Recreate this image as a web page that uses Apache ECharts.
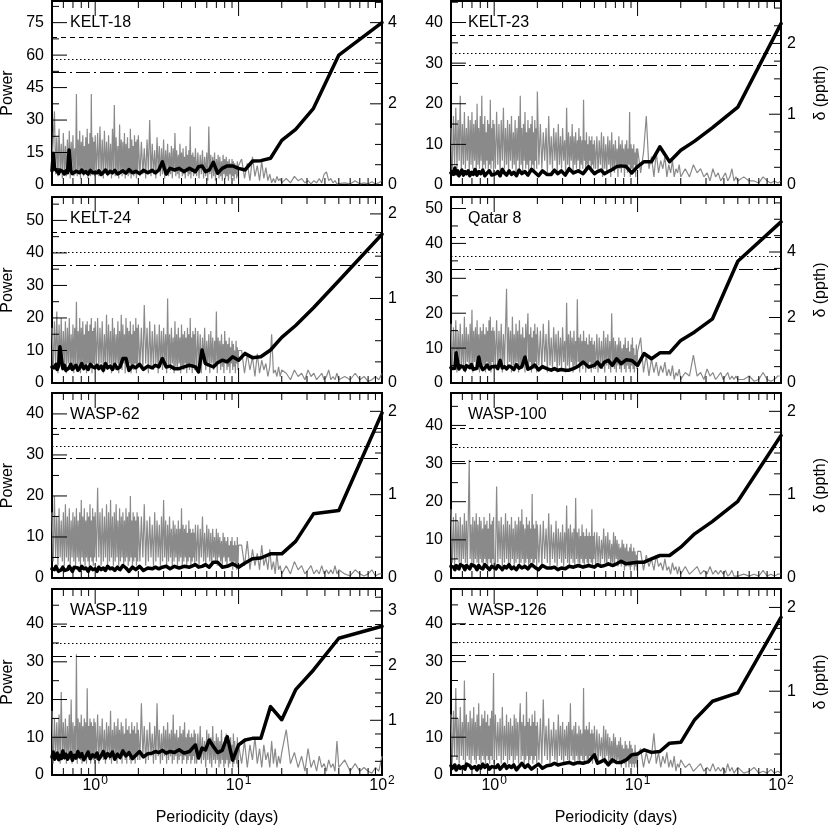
<!DOCTYPE html>
<html>
<head>
<meta charset="utf-8">
<script src="https://cdn.jsdelivr.net/npm/echarts@6/dist/echarts.min.js"></script>
<style>
html, body { margin: 0; padding: 0; background: #fff; }
#chart { width: 830px; height: 826px; }
</style>
</head>
<body>
<div id="chart"></div>
<script>
// periodogram sampling (days), shared by all panels
const periods = [
  0.50, 0.51, 0.52, 0.53, 0.54, 0.55, 0.56, 0.57, 0.58, 0.59, 0.60, 0.61, 0.62, 0.63, 0.64, 0.65, 0.66, 0.67, 0.68, 0.69,
  0.70, 0.71, 0.72, 0.73, 0.74, 0.75, 0.76, 0.77, 0.78, 0.79, 0.80, 0.81, 0.82, 0.83, 0.84, 0.85, 0.86, 0.87, 0.88, 0.89,
  0.90, 0.91, 0.92, 0.93, 0.94, 0.95, 0.96, 0.97, 0.98, 0.99, 1.00,
  1.02, 1.04, 1.06, 1.08, 1.10, 1.12, 1.14, 1.16, 1.18, 1.20, 1.22, 1.24, 1.26, 1.28, 1.30, 1.32, 1.34, 1.36, 1.38, 1.40,
  1.42, 1.44, 1.46, 1.48, 1.50, 1.52, 1.54, 1.56, 1.58, 1.60, 1.62, 1.64, 1.66, 1.68, 1.70, 1.72, 1.74, 1.76, 1.78, 1.80,
  1.82, 1.84, 1.86, 1.88, 1.90, 1.92, 1.94, 1.96, 1.98, 2.00,
  2.05, 2.10, 2.15, 2.20, 2.25, 2.30, 2.35, 2.40, 2.45, 2.50, 2.55, 2.60, 2.65, 2.70, 2.75, 2.80, 2.85, 2.90, 2.95, 3.00,
  3.05, 3.10, 3.15, 3.20, 3.25, 3.30, 3.35, 3.40, 3.45, 3.50, 3.55, 3.60, 3.65, 3.70, 3.75, 3.80, 3.85, 3.90, 3.95, 4.00,
  4.05, 4.10, 4.15, 4.20, 4.25, 4.30, 4.35, 4.40, 4.45, 4.50, 4.55, 4.60, 4.65, 4.70, 4.75, 4.80, 4.85, 4.90, 4.95, 5.00,
  5.1, 5.2, 5.3, 5.4, 5.5, 5.6, 5.7, 5.8, 5.9, 6.0, 6.1, 6.2, 6.3, 6.4, 6.5, 6.6, 6.7, 6.8, 6.9, 7.0, 7.1, 7.2, 7.3, 7.4, 7.5,
  7.6, 7.7, 7.8, 7.9, 8.0, 8.1, 8.2, 8.3, 8.4, 8.5, 8.6, 8.7, 8.8, 8.9, 9.0, 9.1, 9.2, 9.3, 9.4, 9.5, 9.6, 9.7, 9.8, 9.9, 10.0,
  10.5, 11, 11.5, 12, 12.5, 13, 13.5, 14, 14.5, 15, 15.5, 16, 16.5, 17, 17.5, 18, 18.5, 19, 19.5, 20,
  21.5, 23, 24.5, 26, 27.5, 29, 30.5, 32, 33.5, 35, 36.5, 38, 39.5, 41, 42.5, 44, 45.5, 47, 48.5, 50,
  55, 60, 65, 70, 75, 80, 85, 90, 95, 100
];

// periods of the detection-limit curve (days)
const deltaPeriods = [
  100, 50, 33.3, 25, 20, 16.7, 14.3, 12.5, 11.1, 10, 9.09, 8.33, 7.69, 7.14, 6.67, 6.25, 5.88, 5.56, 5.26, 5,
  4.55, 4.17, 3.85, 3.57, 3.33, 3.13, 2.94, 2.78, 2.63, 2.5,
  2.33, 2.17, 2.04, 1.92, 1.82, 1.72, 1.64, 1.56, 1.49, 1.43, 1.37, 1.32, 1.27, 1.22, 1.18, 1.14, 1.10, 1.06, 1.03, 1.00,
  0.962, 0.926, 0.893, 0.862, 0.833, 0.806, 0.781, 0.758, 0.735, 0.714, 0.694, 0.676, 0.658, 0.641, 0.625, 0.610, 0.595, 0.581, 0.568, 0.556, 0.543, 0.532, 0.521, 0.510, 0.500
];

const xMajorTicks = [1, 10, 100];
const xMinorTicks = [0.6, 0.7, 0.8, 0.9, 2, 3, 4, 5, 6, 7, 8, 9, 20, 30, 40, 50, 60, 70, 80, 90];

// power (left axis)
const powerKelt18 = [
  8, 22, 34, 5, 22, 4, 26, 6, 19, 3, 24, 5, 18, 4, 21, 6, 25, 3, 20, 7, 23, 4, 17, 5, 42, 4, 21, 6, 25, 3,
  20, 7, 23, 4, 18, 5, 22, 6, 26, 3, 19, 5, 24, 4, 42, 5, 22, 6, 20, 4, 23,
  5, 24, 4, 27, 5, 21, 3, 25, 6, 20, 4, 23, 5, 19, 3, 26, 6, 37, 4, 22, 5, 18, 3, 28, 6, 21, 4, 20, 5, 24,
  3, 19, 6, 22, 4, 17, 5, 26, 3, 21, 6, 18, 4, 23, 5, 20, 3, 21, 6, 23,
  4, 20, 5, 17, 3, 21, 6, 30, 4, 19, 5, 16, 3, 22, 6, 18, 4, 17, 5, 21, 3, 16, 6, 19, 4, 15, 5, 18, 3, 17,
  6, 24, 4, 16, 5, 14, 3, 19, 6, 15, 4, 17, 5, 13, 3, 18, 6, 14, 4, 16, 5, 27, 3, 14, 6, 15, 4, 13, 5, 17,
  4, 15, 3, 14, 5, 16, 3, 13, 4, 15, 2, 27, 5, 14, 3, 13, 4, 15, 2, 12, 5, 14, 3, 13, 4,
  11, 2, 14, 5, 12, 3, 13, 4, 11, 2, 12, 5, 10, 3, 12, 4, 11, 2, 10, 5, 9, 3, 11, 4, 9,
  12, 3, 10, 2, 13, 4, 9, 2, 11, 3, 8, 2, 5, 1, 3, 1, 4, 2, 3, 1,
  3, 1, 4, 2, 3, 1, 2, 0.5, 2, 1, 3, 1, 5, 6, 2, 3, 1, 2, 0.5, 1,
  1, 0.5, 2, 0.5, 1, 0.5, 1.5, 0.5, 1, 2
];
const powerKelt23 = [
  14, 3, 17, 5, 19, 4, 16, 6, 22, 3, 15, 5, 18, 4, 14, 6, 17, 3, 16, 5, 18, 4, 15, 6, 16, 3, 20, 5, 14, 4,
  17, 6, 22, 3, 15, 5, 17, 4, 13, 6, 16, 3, 15, 5, 21, 4, 14, 6, 16, 3, 15,
  4, 18, 5, 15, 3, 16, 6, 19, 4, 14, 5, 16, 3, 15, 6, 17, 4, 13, 5, 16, 3, 14, 6, 17, 4, 22, 5, 14, 3, 15,
  6, 18, 4, 13, 5, 16, 3, 14, 6, 15, 4, 17, 5, 13, 3, 16, 6, 14, 4, 23,
  5, 15, 4, 13, 6, 14, 3, 17, 5, 12, 4, 14, 6, 13, 3, 15, 5, 12, 4, 14, 6, 11, 3, 19, 5, 13, 4, 12, 6, 15,
  3, 12, 5, 13, 4, 11, 6, 14, 3, 12, 5, 11, 4, 21, 6, 11, 3, 13, 5, 10, 4, 12, 6, 11, 3, 12, 5, 10, 4, 11,
  4, 12, 3, 11, 5, 13, 2, 12, 4, 10, 3, 12, 5, 11, 2, 13, 4, 10, 3, 11, 5, 9, 2, 12, 4,
  10, 3, 11, 5, 9, 2, 10, 4, 11, 3, 9, 5, 18, 2, 10, 4, 9, 3, 10, 5, 8, 2, 9, 4, 9,
  3, 8, 17, 4, 7, 2, 8, 3, 6, 4, 7, 2, 5, 3, 6, 2, 4, 3, 5, 2,
  4, 2, 5, 3, 4, 2, 3, 1, 4, 2, 3, 1, 2, 3, 1, 2, 4, 1, 2, 1,
  2, 1, 1, 0.5, 2, 1, 0.5, 1, 0.5, 1
];
const powerKelt24 = [
  17, 4, 19, 5, 22, 3, 18, 6, 20, 4, 16, 5, 19, 3, 17, 6, 20, 4, 15, 5, 18, 3, 17, 6, 25, 4, 16, 5, 20, 3,
  17, 6, 19, 4, 15, 5, 18, 3, 19, 6, 16, 4, 18, 5, 20, 3, 16, 6, 17, 4, 19,
  5, 20, 4, 17, 6, 19, 3, 15, 5, 21, 4, 18, 6, 16, 3, 20, 5, 17, 4, 15, 6, 19, 3, 16, 5, 21, 4, 18, 6, 15,
  3, 20, 5, 17, 4, 16, 6, 19, 3, 15, 5, 18, 4, 16, 6, 20, 3, 17, 5, 18,
  5, 17, 4, 24, 6, 17, 3, 19, 5, 16, 4, 18, 6, 15, 3, 18, 5, 16, 4, 17, 6, 15, 3, 26, 5, 15, 4, 17, 6, 14,
  3, 19, 5, 15, 4, 17, 6, 14, 3, 18, 5, 15, 4, 16, 6, 14, 3, 17, 5, 15, 4, 20, 6, 14, 3, 16, 5, 15, 4, 17,
  4, 16, 5, 15, 3, 14, 6, 17, 4, 13, 5, 15, 3, 16, 6, 14, 4, 13, 5, 22, 3, 14, 6, 13, 4,
  15, 5, 12, 3, 16, 6, 13, 4, 12, 5, 14, 3, 11, 6, 13, 4, 12, 5, 10, 3, 13, 6, 11, 4, 10,
  10, 3, 9, 4, 8, 2, 9, 3, 7, 4, 6, 2, 5, 15, 3, 4, 2, 5, 2, 4,
  3, 1, 4, 2, 3, 1, 4, 2, 3, 1, 2, 3, 1, 2, 4, 1, 2, 1, 3, 1,
  2, 1, 3, 1, 2, 0.5, 1, 2, 1, 3
];
const powerQatar8 = [
  17, 4, 16, 5, 18, 3, 15, 6, 17, 4, 14, 5, 19, 3, 16, 6, 14, 4, 17, 5, 21, 3, 15, 6, 16, 4, 18, 5, 14, 3,
  16, 6, 15, 4, 17, 5, 14, 3, 16, 6, 15, 4, 18, 5, 19, 3, 15, 6, 16, 4, 15,
  5, 18, 4, 15, 6, 17, 3, 14, 5, 16, 27, 4, 16, 6, 15, 3, 19, 5, 14, 4, 17, 6, 15, 3, 18, 5, 14, 4, 16, 6,
  13, 3, 17, 5, 15, 20, 4, 14, 6, 16, 3, 13, 5, 15, 4, 17, 6, 14, 3, 16,
  5, 15, 4, 17, 6, 14, 3, 18, 5, 13, 4, 16, 6, 14, 3, 15, 5, 13, 4, 16, 6, 12, 3, 23, 5, 14, 4, 15, 6, 13,
  3, 15, 5, 12, 4, 24, 6, 13, 3, 14, 5, 12, 4, 15, 6, 12, 3, 13, 5, 11, 4, 14, 6, 12, 3, 13, 5, 11, 4, 12,
  4, 14, 3, 13, 5, 12, 4, 15, 3, 13, 5, 14, 4, 12, 3, 20, 5, 13, 4, 12, 3, 11, 5, 13, 4,
  12, 3, 10, 5, 11, 4, 13, 3, 10, 5, 12, 4, 9, 3, 11, 5, 13, 4, 10, 3, 8, 5, 11, 4, 9,
  13, 3, 8, 2, 7, 3, 6, 2, 5, 3, 6, 2, 4, 2, 5, 1, 3, 2, 4, 1,
  3, 2, 8, 2, 3, 1, 4, 2, 3, 1, 2, 3, 1, 2, 3, 1, 2, 1, 2, 1,
  1, 2, 0.5, 1, 3, 1, 0.5, 1, 2, 2
];
const powerWasp62 = [
  16, 4, 20, 5, 15, 3, 17, 5, 14, 4, 16, 3, 18, 5, 15, 4, 17, 3, 14, 5, 16, 4, 15, 3, 17, 5, 14, 4, 16, 3,
  19, 5, 15, 4, 17, 3, 14, 5, 16, 4, 15, 3, 18, 5, 14, 4, 17, 3, 15, 5, 16,
  4, 22, 5, 16, 3, 17, 4, 15, 5, 18, 3, 16, 4, 19, 5, 15, 3, 16, 4, 18, 5, 14, 3, 17, 4, 15, 5, 16, 3, 14,
  4, 17, 5, 15, 3, 16, 4, 20, 5, 14, 3, 16, 4, 15, 5, 14, 3, 16, 4, 15,
  4, 15, 5, 18, 3, 14, 4, 15, 5, 13, 3, 16, 4, 14, 5, 13, 3, 15, 4, 19, 5, 14, 3, 13, 4, 15, 5, 12, 3, 14,
  4, 13, 5, 12, 3, 14, 4, 12, 5, 17, 3, 13, 4, 12, 5, 13, 3, 11, 4, 14, 5, 12, 3, 11, 4, 12, 5, 11, 3, 13,
  4, 13, 3, 12, 5, 15, 4, 11, 3, 13, 5, 12, 4, 11, 3, 12, 5, 10, 4, 12, 3, 11, 5, 10, 4,
  9, 3, 11, 5, 10, 4, 9, 3, 10, 5, 8, 4, 9, 3, 10, 2, 8, 4, 9, 3, 8, 2, 10, 3, 8,
  8, 3, 9, 2, 7, 3, 6, 2, 8, 3, 5, 2, 7, 2, 4, 1, 6, 2, 3, 1,
  3, 1, 4, 2, 3, 1, 2, 3, 1, 2, 1, 3, 1, 2, 1, 2, 1, 3, 1, 2,
  1, 0.5, 2, 1, 0.5, 1, 2, 0.5, 1, 1
];
const powerWasp100 = [
  18, 4, 16, 3, 17, 5, 15, 4, 16, 3, 14, 5, 17, 4, 15, 3, 16, 31, 5, 14, 4, 16, 3, 15, 5, 17, 4, 14, 3, 16,
  5, 15, 4, 13, 3, 16, 5, 14, 4, 15, 3, 13, 5, 17, 4, 14, 3, 15, 5, 16, 4,
  3, 24, 4, 15, 5, 16, 3, 14, 4, 17, 5, 15, 3, 14, 4, 16, 5, 13, 3, 15, 4, 14, 5, 16, 3, 15, 4, 18, 5, 14,
  3, 13, 4, 16, 5, 14, 3, 15, 4, 13, 5, 22, 3, 14, 4, 13, 5, 15, 3, 14,
  4, 14, 3, 15, 5, 13, 4, 17, 3, 14, 5, 12, 4, 15, 3, 13, 5, 12, 4, 14, 3, 12, 5, 19, 4, 13, 3, 14, 5, 12,
  4, 13, 3, 21, 5, 12, 4, 13, 3, 11, 5, 14, 4, 12, 3, 11, 5, 13, 4, 11, 3, 12, 5, 11, 4, 18, 3, 11, 5, 12,
  3, 12, 4, 11, 3, 10, 5, 13, 4, 11, 3, 12, 5, 10, 3, 9, 4, 12, 3, 11, 5, 10, 3, 9, 4,
  8, 3, 10, 4, 9, 2, 8, 3, 9, 4, 7, 3, 8, 2, 9, 3, 7, 4, 8, 2, 7, 3, 6, 2, 7,
  7, 2, 6, 3, 5, 2, 6, 3, 4, 2, 5, 2, 3, 1, 4, 2, 3, 1, 3, 1,
  3, 1, 2, 3, 1, 2, 1, 3, 1, 2, 1, 2, 1, 2, 0.5, 1, 2, 0.5, 1, 0.5,
  1, 0.5, 1, 0.5, 2, 0.5, 1, 0.5, 1, 1
];
const powerWasp119 = [
  17, 3, 15, 5, 14, 4, 16, 3, 22, 5, 14, 4, 15, 3, 13, 5, 16, 4, 20, 3, 14, 5, 13, 4, 32, 3, 15, 5, 14, 4,
  16, 3, 13, 5, 15, 4, 14, 3, 23, 5, 13, 4, 15, 3, 14, 5, 13, 4, 15, 3, 14,
  4, 16, 3, 13, 5, 15, 4, 12, 3, 14, 5, 13, 4, 17, 3, 12, 5, 14, 4, 13, 3, 15, 5, 12, 4, 14, 3, 13, 5, 11,
  4, 15, 3, 12, 5, 13, 4, 11, 3, 14, 5, 12, 4, 13, 3, 11, 5, 14, 4, 12,
  4, 19, 5, 13, 3, 12, 4, 14, 5, 11, 3, 13, 4, 19, 5, 12, 3, 11, 4, 13, 5, 12, 3, 14, 4, 11, 5, 12, 3, 16,
  4, 11, 5, 12, 3, 10, 4, 13, 5, 11, 3, 12, 4, 14, 5, 10, 3, 11, 4, 12, 5, 10, 3, 11, 4, 10, 5, 12, 3, 11,
  3, 11, 4, 13, 3, 10, 4, 9, 2, 12, 4, 11, 3, 10, 2, 13, 4, 9, 3, 11, 4, 10, 2, 9, 3,
  12, 4, 8, 2, 10, 3, 11, 4, 8, 2, 9, 3, 10, 4, 8, 2, 11, 3, 9, 4, 7, 3, 10, 2, 8,
  3, 9, 2, 8, 4, 10, 3, 7, 2, 8, 4, 6, 2, 9, 3, 7, 2, 5, 3, 6,
  12, 3, 6, 2, 5, 1, 7, 2, 4, 1, 5, 2, 3, 1, 4, 2, 3, 1, 9, 2,
  4, 1, 3, 1, 2, 1, 0.5, 2, 1, 5
];
const powerWasp126 = [
  16, 3, 17, 5, 23, 4, 15, 3, 18, 5, 14, 4, 25, 3, 16, 5, 14, 4, 17, 3, 15, 5, 18, 4, 14, 3, 16, 5, 19, 4,
  13, 3, 16, 5, 15, 4, 17, 3, 14, 5, 16, 4, 13, 3, 15, 5, 17, 4, 14, 27, 3,
  16, 4, 14, 5, 15, 3, 18, 4, 13, 5, 16, 3, 14, 4, 15, 5, 13, 3, 16, 4, 15, 5, 14, 3, 13, 19, 4, 14, 5, 16,
  3, 13, 4, 22, 5, 14, 3, 15, 4, 13, 5, 16, 3, 14, 4, 17, 5, 13, 3, 14,
  4, 15, 3, 20, 5, 13, 4, 15, 3, 12, 5, 14, 4, 12, 3, 16, 5, 13, 4, 14, 3, 12, 5, 13, 4, 14, 3, 19, 5, 12,
  4, 13, 3, 14, 5, 11, 4, 13, 3, 12, 5, 11, 4, 23, 3, 12, 5, 13, 4, 12, 3, 14, 5, 11, 4, 12, 3, 11, 5, 13,
  4, 12, 3, 11, 5, 10, 4, 13, 3, 12, 5, 11, 3, 10, 4, 9, 3, 11, 4, 10, 3, 8, 4, 9, 3,
  10, 2, 8, 4, 7, 3, 9, 2, 8, 4, 7, 2, 9, 3, 8, 2, 7, 3, 6, 2, 8, 3, 6, 2, 5,
  7, 2, 6, 3, 5, 11, 3, 6, 2, 5, 3, 6, 2, 4, 2, 5, 1, 3, 2, 4,
  2, 3, 1, 2, 3, 1, 2, 1, 3, 1, 2, 1, 2, 0.5, 3, 1, 2, 0.5, 1, 2,
  0.5, 1, 2, 0.5, 1, 0.5, 1.5, 0.5, 1, 0.5
];

// detection limit delta in ppth (right axis)
const deltaKelt18 = [
  4.0, 3.2, 1.89, 1.37, 1.1, 0.66, 0.6, 0.59, 0.37, 0.41, 0.47, 0.47, 0.41, 0.29, 0.56, 0.37, 0.33, 0.47, 0.45, 0.33,
  0.41, 0.33, 0.41, 0.37, 0.41, 0.27, 0.57, 0.37, 0.3, 0.36,
  0.3, 0.36, 0.28, 0.34, 0.3, 0.38, 0.29, 0.35, 0.31, 0.27, 0.36, 0.3, 0.34, 0.28, 0.37, 0.31, 0.26, 0.35, 0.3, 0.33,
  0.3, 0.36, 0.27, 0.33, 0.29, 0.37, 0.3, 0.26, 0.34, 0.31, 0.28, 0.36, 0.86, 0.3, 0.35, 0.27, 0.33, 0.3, 0.37, 0.28, 0.34, 0.31, 0.4, 0.78, 0.35
];
const deltaKelt23 = [
  2.28, 1.1, 0.81, 0.62, 0.49, 0.33, 0.54, 0.33, 0.33, 0.26, 0.17, 0.26, 0.27, 0.26, 0.22, 0.19, 0.16, 0.21, 0.19, 0.16,
  0.26, 0.16, 0.2, 0.17, 0.23, 0.14, 0.2, 0.16, 0.21, 0.15,
  0.15, 0.2, 0.13, 0.18, 0.22, 0.14, 0.19, 0.16, 0.21, 0.13, 0.18, 0.15, 0.2, 0.14, 0.17, 0.22, 0.13, 0.19, 0.16, 0.18,
  0.14, 0.2, 0.17, 0.13, 0.21, 0.16, 0.19, 0.14, 0.22, 0.15, 0.18, 0.13, 0.2, 0.16, 0.19, 0.14, 0.21, 0.17, 0.13, 0.2, 0.16, 0.24, 0.15, 0.19, 0.17
];
const deltaKelt24 = [
  1.76, 1.21, 0.89, 0.68, 0.54, 0.39, 0.31, 0.3, 0.35, 0.27, 0.31, 0.25, 0.27, 0.24, 0.19, 0.21, 0.23, 0.39, 0.13, 0.19,
  0.21, 0.19, 0.17, 0.17, 0.2, 0.19, 0.29, 0.19, 0.21, 0.18,
  0.2, 0.16, 0.22, 0.18, 0.2, 0.15, 0.29, 0.29, 0.19, 0.17, 0.22, 0.16, 0.2, 0.18, 0.23, 0.15, 0.2, 0.17, 0.21, 0.18,
  0.19, 0.22, 0.16, 0.2, 0.17, 0.23, 0.18, 0.15, 0.21, 0.19, 0.16, 0.22, 0.18, 0.2, 0.15, 0.21, 0.17, 0.19, 0.43, 0.2, 0.16, 0.22, 0.18, 0.2, 0.19
];
const deltaQatar8 = [
  4.92, 3.72, 1.96, 1.56, 1.3, 0.92, 0.92, 0.74, 0.9, 0.54, 0.69, 0.71, 0.59, 0.74, 0.54, 0.69, 0.64, 0.49, 0.64, 0.54,
  0.49, 0.64, 0.51, 0.44, 0.39, 0.39, 0.41, 0.39, 0.44, 0.39,
  0.44, 0.5, 0.4, 0.55, 0.47, 0.42, 0.79, 0.5, 0.45, 0.56, 0.41, 0.48, 0.52, 0.43, 0.5, 0.46, 0.69, 0.44, 0.51, 0.47,
  0.5, 0.43, 0.55, 0.46, 0.41, 0.52, 0.79, 0.45, 0.5, 0.42, 0.56, 0.47, 0.44, 0.53, 0.4, 0.49, 0.46, 0.52, 0.43, 0.48, 0.92, 0.45, 0.51, 0.44, 0.47
];
const deltaWasp62 = [
  1.98, 0.81, 0.77, 0.44, 0.29, 0.29, 0.24, 0.23, 0.18, 0.13, 0.17, 0.14, 0.13, 0.19, 0.19, 0.13, 0.16, 0.14, 0.13, 0.16,
  0.13, 0.14, 0.12, 0.14, 0.11, 0.14, 0.13, 0.11, 0.13, 0.11,
  0.12, 0.09, 0.14, 0.1, 0.13, 0.08, 0.12, 0.15, 0.1, 0.13, 0.09, 0.12, 0.11, 0.14, 0.09, 0.12, 0.1, 0.13, 0.08, 0.11,
  0.1, 0.13, 0.08, 0.12, 0.11, 0.14, 0.09, 0.12, 0.1, 0.13, 0.08, 0.11, 0.14, 0.1, 0.12, 0.09, 0.13, 0.1, 0.12, 0.08, 0.11, 0.14, 0.1, 0.12, 0.11
];
const deltaWasp100 = [
  1.71, 0.92, 0.68, 0.53, 0.37, 0.27, 0.27, 0.23, 0.19, 0.19, 0.18, 0.17, 0.2, 0.17, 0.15, 0.17, 0.15, 0.14, 0.16, 0.13,
  0.15, 0.13, 0.15, 0.13, 0.14, 0.11, 0.12, 0.1, 0.13, 0.12,
  0.12, 0.15, 0.1, 0.13, 0.16, 0.11, 0.14, 0.12, 0.15, 0.1, 0.13, 0.11, 0.16, 0.12, 0.14, 0.1, 0.13, 0.15, 0.11, 0.13,
  0.14, 0.1, 0.13, 0.16, 0.11, 0.12, 0.15, 0.1, 0.14, 0.12, 0.16, 0.11, 0.13, 0.15, 0.1, 0.14, 0.12, 0.16, 0.11, 0.13, 0.15, 0.1, 0.13, 0.12, 0.14
];
const deltaWasp119 = [
  2.72, 2.5, 1.92, 1.56, 1.01, 1.25, 0.67, 0.67, 0.64, 0.55, 0.27, 0.7, 0.45, 0.41, 0.52, 0.64, 0.46, 0.49, 0.31, 0.55,
  0.43, 0.4, 0.46, 0.41, 0.43, 0.4, 0.45, 0.41, 0.43, 0.4,
  0.39, 0.33, 0.43, 0.36, 0.3, 0.41, 0.35, 0.44, 0.32, 0.38, 0.29, 0.42, 0.34, 0.39, 0.31, 0.43, 0.35, 0.29, 0.4, 0.33,
  0.37, 0.3, 0.42, 0.34, 0.28, 0.39, 0.33, 0.43, 0.31, 0.36, 0.27, 0.41, 0.35, 0.29, 0.38, 0.32, 0.44, 0.3, 0.36, 0.28, 0.4, 0.34, 0.29, 0.42, 0.33
];
const deltaWasp126 = [
  1.88, 0.98, 0.88, 0.66, 0.39, 0.38, 0.28, 0.27, 0.3, 0.25, 0.24, 0.18, 0.15, 0.15, 0.18, 0.12, 0.18, 0.16, 0.14, 0.24,
  0.16, 0.14, 0.15, 0.13, 0.15, 0.14, 0.13, 0.12, 0.14, 0.12,
  0.11, 0.08, 0.13, 0.1, 0.07, 0.12, 0.09, 0.14, 0.1, 0.06, 0.12, 0.09, 0.11, 0.08, 0.13, 0.1, 0.07, 0.12, 0.09, 0.11,
  0.1, 0.07, 0.12, 0.09, 0.13, 0.08, 0.11, 0.06, 0.1, 0.12, 0.08, 0.11, 0.09, 0.13, 0.07, 0.1, 0.12, 0.08, 0.11, 0.09, 0.06, 0.12, 0.1, 0.08, 0.11
];

// false-alarm power levels: [dashed, dotted, dash-dot]
const levelsKelt18 = [68.4, 58.2, 51.9];
const levelsKelt23 = [36.8, 32.5, 29.6];
const levelsKelt24 = [46.4, 40.2, 36.1];
const levelsQatar8 = [41.8, 36.3, 32.5];
const levelsWasp62 = [36.4, 32.0, 29.3];
const levelsWasp100 = [39.2, 34.4, 30.7];
const levelsWasp119 = [39.4, 34.8, 31.6];
const levelsWasp126 = [40.0, 35.0, 31.7];

const panels = [
  { name: 'KELT-18', col: 0, row: 0, power: powerKelt18, delta: deltaKelt18, levels: levelsKelt18, powerMax: 85, powerStep: 15, deltaMax: 4.533, deltaStep: 2 },
  { name: 'KELT-23', col: 1, row: 0, power: powerKelt23, delta: deltaKelt23, levels: levelsKelt23, powerMax: 45.3, powerStep: 10, deltaMax: 2.6, deltaStep: 1 },
  { name: 'KELT-24', col: 0, row: 1, power: powerKelt24, delta: deltaKelt24, levels: levelsKelt24, powerMax: 57.2, powerStep: 10, deltaMax: 2.2, deltaStep: 1 },
  { name: 'Qatar 8', col: 1, row: 1, power: powerQatar8, delta: deltaQatar8, levels: levelsQatar8, powerMax: 53.3, powerStep: 10, deltaMax: 5.68, deltaStep: 2 },
  { name: 'WASP-62', col: 0, row: 2, power: powerWasp62, delta: deltaWasp62, levels: levelsWasp62, powerMax: 45.1, powerStep: 10, deltaMax: 2.22, deltaStep: 1 },
  { name: 'WASP-100', col: 1, row: 2, power: powerWasp100, delta: deltaWasp100, levels: levelsWasp100, powerMax: 48.5, powerStep: 10, deltaMax: 2.22, deltaStep: 1 },
  { name: 'WASP-119', col: 0, row: 3, power: powerWasp119, delta: deltaWasp119, levels: levelsWasp119, powerMax: 49.3, powerStep: 10, deltaMax: 3.4, deltaStep: 1, hideZero: true },
  { name: 'WASP-126', col: 1, row: 3, power: powerWasp126, delta: deltaWasp126, levels: levelsWasp126, powerMax: 49.2, powerStep: 10, deltaMax: 2.22, deltaStep: 1, hideZero: true }
];

const FONT = '"Liberation Sans", Arial, Helvetica, sans-serif';
const colLeft = [52, 451];
const rowTop = [1, 197, 393, 589];
const rowHeight = [184, 186, 185, 186];
const plotWidth = 330;
const lg = Math.log10;
const xMin = lg(0.5), xMax = 2;
const textStyle = { fontSize: 16, color: '#000', fontFamily: FONT };
const frameLine = () => ({ show: true, onZero: false, lineStyle: { color: '#000', width: 2 } });

// [value, length in px] for inward ticks every step/split
function stepTicks(max, step, split, majorLen, minorLen) {
  const out = [];
  const minor = step / split;
  for (let i = 1; i * minor < max - 1e-9; i++) out.push([i * minor, i % split === 0 ? majorLen : minorLen]);
  return out;
}

const grid = [], xAxis = [], yAxis = [], series = [], title = [];

panels.forEach(p => {
  const g = grid.length;
  const left = colLeft[p.col];
  const top = rowTop[p.row];
  const h = rowHeight[p.row];
  grid.push({
    left: left, top: top, width: plotWidth, height: h,
    show: false, containLabel: false, outerBoundsMode: 'none'
  });

  const xi = xAxis.length;
  const bottomRow = p.row === 3;
  xAxis.push({
    gridIndex: g, type: 'value', position: 'bottom', min: xMin, max: xMax,
    axisLine: frameLine(), splitLine: { show: false }, axisTick: { show: false },
    axisLabel: bottomRow ? {
      show: true, customValues: xMajorTicks.map(lg), margin: 0,
      formatter: v => '{b|10}{s|' + Math.round(v) + '}',
      rich: {
        b: { fontSize: 16, color: '#000', fontFamily: FONT, verticalAlign: 'bottom' },
        s: { fontSize: 12, color: '#000', fontFamily: FONT, verticalAlign: 'top', padding: [0, 0, 7, 1] }
      }
    } : { show: false },
    name: bottomRow ? 'Periodicity (days)' : '', nameLocation: 'middle', nameGap: 35,
    nameTextStyle: textStyle, nameMoveOverlap: false
  });
  xAxis.push({
    gridIndex: g, type: 'value', position: 'top', min: xMin, max: xMax,
    axisLine: frameLine(), splitLine: { show: false }, axisTick: { show: false }, axisLabel: { show: false }
  });

  const yi = yAxis.length;
  yAxis.push({
    gridIndex: g, type: 'value', position: 'left', min: 0, max: p.powerMax, interval: p.powerStep,
    axisLine: frameLine(), splitLine: { show: false }, axisTick: { show: false },
    axisLabel: Object.assign({ margin: 8, showMaxLabel: false }, textStyle),
    name: p.col === 0 ? 'Power' : '', nameLocation: 'middle', nameGap: 36, nameRotate: 90,
    nameTextStyle: textStyle, nameMoveOverlap: false
  });
  yAxis.push({
    gridIndex: g, type: 'value', position: 'right', min: 0, max: p.deltaMax, interval: p.deltaStep,
    axisLine: frameLine(), splitLine: { show: false }, axisTick: { show: false },
    axisLabel: Object.assign({ margin: 6, showMaxLabel: false, showMinLabel: !p.hideZero }, textStyle),
    name: p.col === 1 ? 'δ (ppth)' : '', nameLocation: 'middle', nameGap: 32, nameRotate: 90,
    nameTextStyle: textStyle, nameMoveOverlap: false
  });

  title.push({
    text: p.name, left: left + (p.col === 0 ? 18 : 17), top: top + 14, padding: 0,
    textStyle: { fontSize: 16, fontWeight: 'normal', color: '#000', fontFamily: FONT }
  });

  series.push({
    type: 'line', xAxisIndex: xi, yAxisIndex: yi, symbol: 'none', silent: true, z: 2,
    data: periods.map((d, i) => [lg(d), p.power[i]]),
    lineStyle: { color: '#8a8a8a', width: 1.2 },
    markLine: {
      silent: true, symbol: ['none', 'none'], label: { show: false }, animation: false,
      emphasis: { disabled: true },
      data: [
        { yAxis: p.levels[0], lineStyle: { color: '#000', width: 1, type: [5, 4] } },
        { yAxis: p.levels[1], lineStyle: { color: '#000', width: 1, type: [1.5, 2.5] } },
        { yAxis: p.levels[2], lineStyle: { color: '#000', width: 1, type: [14, 4, 2, 4] } }
      ]
    }
  });
  series.push({
    type: 'line', xAxisIndex: xi, yAxisIndex: yi + 1, symbol: 'none', silent: true, z: 3,
    data: deltaPeriods.map((d, i) => [lg(d), p.delta[i]]),
    lineStyle: { color: '#000', width: 3.5, join: 'round', cap: 'round' }
  });

  // inward tick marks, drawn as broken line series in each axis' own units
  const perPxX = (xMax - xMin) / plotWidth;
  const perPxPower = p.powerMax / h;
  const perPxDelta = p.deltaMax / h;
  const powerSide = [];
  xMajorTicks.map(t => [lg(t), 15]).concat(xMinorTicks.map(t => [lg(t), 7])).forEach(([v, len]) => {
    powerSide.push([v, 0], [v, len * perPxPower], [v, null]);
    powerSide.push([v, p.powerMax], [v, p.powerMax - len * perPxPower], [v, null]);
  });
  stepTicks(p.powerMax, p.powerStep, 2, 15, 7).forEach(([v, len]) => {
    powerSide.push([xMin, v], [xMin + len * perPxX, v], [xMin, null]);
  });
  const deltaSide = [];
  stepTicks(p.deltaMax, p.deltaStep, 4, 12, 7).forEach(([v, len]) => {
    deltaSide.push([xMax, v], [xMax - len * perPxX, v], [xMax, null]);
  });
  const tickSeries = (yIndex, data) => ({
    type: 'line', xAxisIndex: xi, yAxisIndex: yIndex, symbol: 'none', showSymbol: false,
    silent: true, z: 6, clip: false, connectNulls: false, data: data,
    lineStyle: { color: '#000', width: 1 }
  });
  series.push(tickSeries(yi, powerSide), tickSeries(yi + 1, deltaSide));
});

const chart = echarts.init(document.getElementById('chart'));
chart.setOption({
  animation: false,
  backgroundColor: '#fff',
  title: title,
  grid: grid,
  xAxis: xAxis,
  yAxis: yAxis,
  series: series
});
</script>
</body>
</html>
